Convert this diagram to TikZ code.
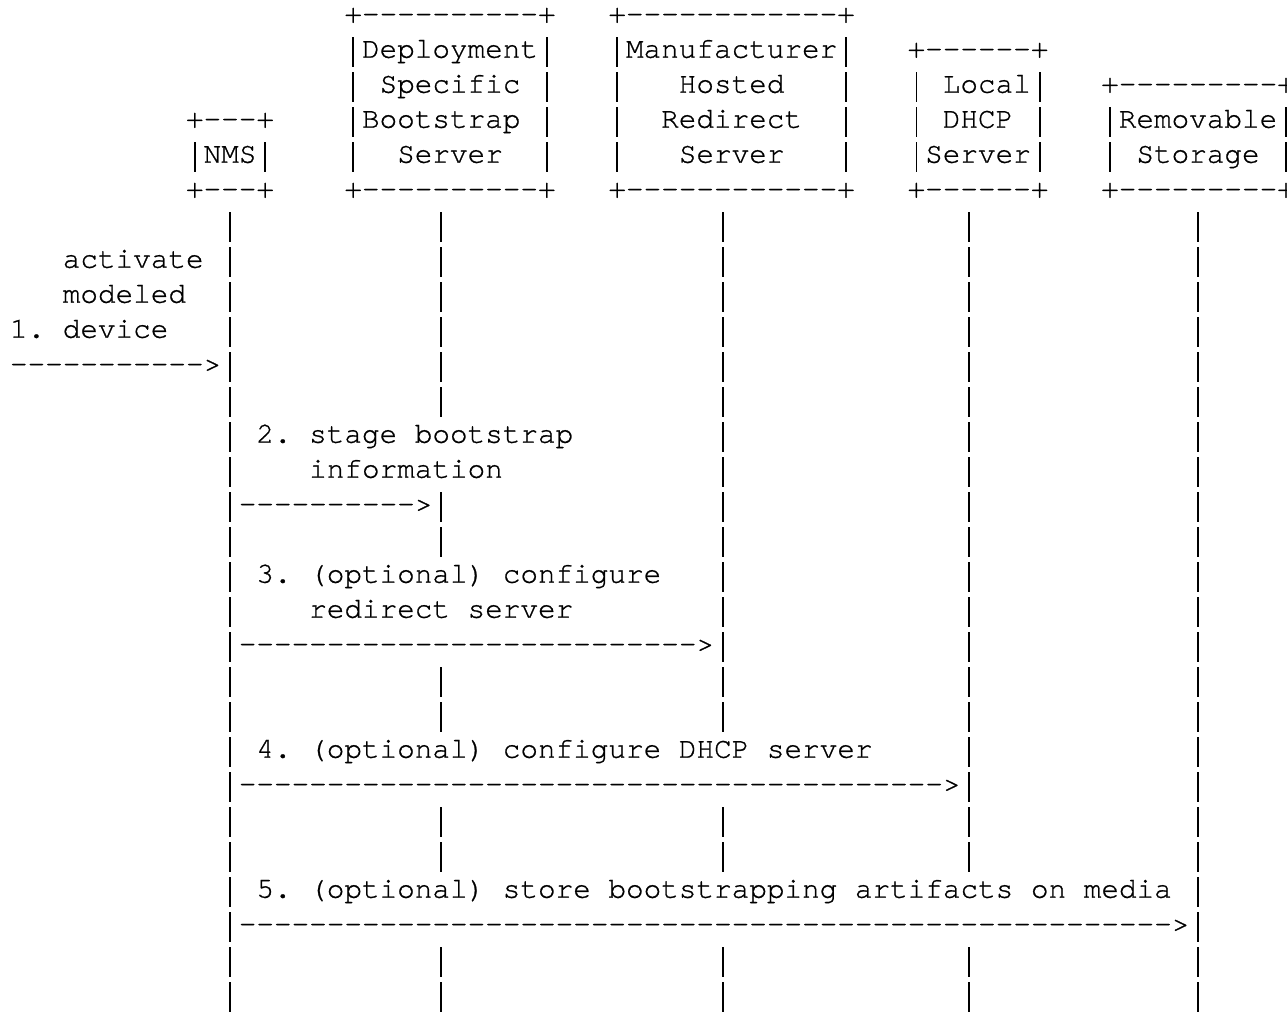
\documentclass[tikz,border=0pt]{standalone}
\usepackage{fontspec}
\setmonofont{texgyrecursor-regular.otf}[Ligatures=NoCommon,FakeBold=0.8]
\frenchspacing
\tikzset{ascii/.style={font=\ttfamily\fontsize{14.67pt}{17.5pt}\selectfont,anchor=base west,inner sep=0pt,outer sep=0pt}}
\newcommand{\asciitxt}[3]{\node[ascii] at (#1) (#2) {#3}}
\newcommand{\dashrun}[1]{\foreach \k in {1,...,#1}{-}>}
% full-height bar, one character cell wide
\newcommand{\vb}{\makebox[0.6em]{\rule[-0.31em]{0.9pt}{1.03em}}}

\begin{document}
\begin{tikzpicture}[x=8.8pt,y=-17.5pt]
	\useasboundingbox (-0.568,0.351) rectangle (72.557,29.294);
	% participant boxes, one line per row
	\asciitxt{10,4}{nms-t}{+---+};
	\asciitxt{10,5}{nms}{\vb NMS\vb};
	\asciitxt{10,6}{nms-b}{+---+};
	
	\asciitxt{19,1}{dsbs-t}{+----------+};
	\asciitxt{19,2}{dsbs-1}{\vb Deployment\vb};
	\asciitxt{19,3}{dsbs-2}{\vb~Specific~\vb};
	\asciitxt{19,4}{dsbs-3}{\vb Bootstrap~\vb};
	\asciitxt{19,5}{dsbs-4}{\vb~~Server~~\vb};
	\asciitxt{19,6}{dsbs-b}{+----------+};
	
	\asciitxt{34,1}{mhrs-t}{+------------+};
	\asciitxt{34,2}{mhrs-1}{\vb Manufacturer\vb};
	\asciitxt{34,3}{mhrs-2}{\vb~~~Hosted~~~\vb};
	\asciitxt{34,4}{mhrs-3}{\vb~~Redirect~~\vb};
	\asciitxt{34,5}{mhrs-4}{\vb~~~Server~~~\vb};
	\asciitxt{34,6}{mhrs-b}{+------------+};
	
	\asciitxt{51,2}{dhcp-t}{+------+};
	\asciitxt{51,3}{dhcp-1}{\vb~Local\vb};
	\asciitxt{51,4}{dhcp-2}{\vb~DHCP~\vb};
	\asciitxt{51,5}{dhcp-3}{\vb Server\vb};
	\asciitxt{51,6}{dhcp-b}{+------+};
	
	\asciitxt{62,3}{rem-t}{+---------+};
	\asciitxt{62,4}{rem-1}{\vb Removable\vb};
	\asciitxt{62,5}{rem-2}{\vb~Storage~\vb};
	\asciitxt{62,6}{rem-b}{+---------+};
	
	% lifelines, left open where a message crosses them
	\foreach \r in {7,...,29} \asciitxt{12,\r}{nms-\r}{\vb};
	\foreach \r in {7,...,12,15,16,20,21,24,25,28,29} \asciitxt{24,\r}{dsbs-\r}{\vb};
	\foreach \r in {7,...,21,24,25,28,29} \asciitxt{40,\r}{mhrs-\r}{\vb};
	\foreach \r in {7,...,25,28,29} \asciitxt{54,\r}{dhcp-\r}{\vb};
	\foreach \r in {7,...,29} \asciitxt{67,\r}{rem-\r}{\vb};
	
	% messages
	\asciitxt{3,8}{m1-a}{activate};
	\asciitxt{3,9}{m1-b}{modeled};
	\asciitxt{0,10}{m1-c}{1. device};
	\asciitxt{0,11}{m1}{\dashrun{11}};
	
	\asciitxt{14,13}{m2-a}{2. stage bootstrap};
	\asciitxt{17,14}{m2-b}{information};
	\asciitxt{13,15}{m2}{\dashrun{10}};
	
	\asciitxt{14,17}{m3-a}{3. (optional) configure};
	\asciitxt{17,18}{m3-b}{redirect server};
	\asciitxt{13,19}{m3}{\dashrun{26}};
	
	\asciitxt{14,22}{m4-a}{4. (optional) configure DHCP server};
	\asciitxt{13,23}{m4}{\dashrun{40}};
	
	\asciitxt{14,26}{m5-a}{5. (optional) store bootstrapping artifacts on media};
	\asciitxt{13,27}{m5}{\dashrun{53}};
\end{tikzpicture}
\end{document}
